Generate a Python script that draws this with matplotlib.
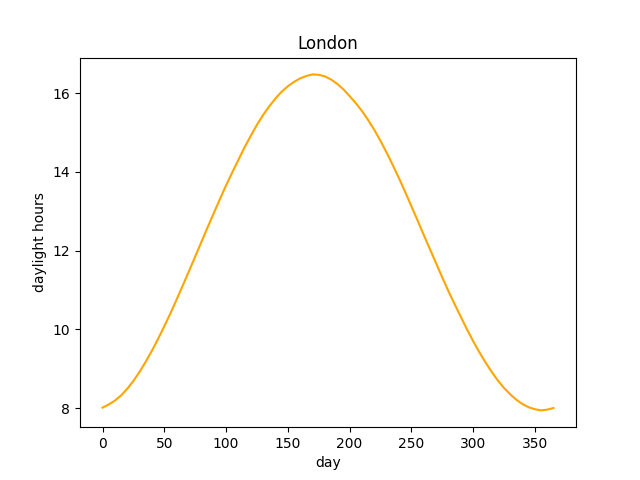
import matplotlib

matplotlib.use("Agg")

import matplotlib.pyplot as plt

# hours of daylight, every 5 days
DAYS = list(range(0, 365, 5)) + [365]
HOURS = [
    8.01, 8.09, 8.19, 8.32, 8.49, 8.69, 8.92, 9.18,     # 0 - 35
    9.46, 9.76, 10.08, 10.41, 10.76, 11.12, 11.48, 11.85,  # 40 - 75
    12.22, 12.59, 12.95, 13.31, 13.66, 13.99, 14.31, 14.63,  # 80 - 115
    14.92, 15.20, 15.45, 15.67, 15.87, 16.04, 16.18, 16.29,  # 120 - 155
    16.38, 16.44, 16.48, 16.47, 16.43, 16.35, 16.24, 16.10,  # 160 - 195
    15.93, 15.75, 15.55, 15.32, 15.07, 14.79, 14.49, 14.17,  # 200 - 235
    13.84, 13.49, 13.13, 12.77, 12.40, 12.04, 11.68, 11.32,  # 240 - 275
    10.97, 10.64, 10.32, 10.00, 9.70, 9.42, 9.16, 8.92,      # 280 - 315
    8.70, 8.51, 8.35, 8.21, 8.10, 8.02, 7.97, 7.94,          # 320 - 355
    7.96, 8.00,                                              # 360, 365
]

fig, ax = plt.subplots(figsize=(6.4, 4.8), dpi=100)
ax.plot(DAYS, HOURS, color="orange")
ax.set_title("London")
ax.set_xlabel("day")
ax.set_ylabel("daylight hours")

fig.savefig("out.png")
plt.close(fig)
